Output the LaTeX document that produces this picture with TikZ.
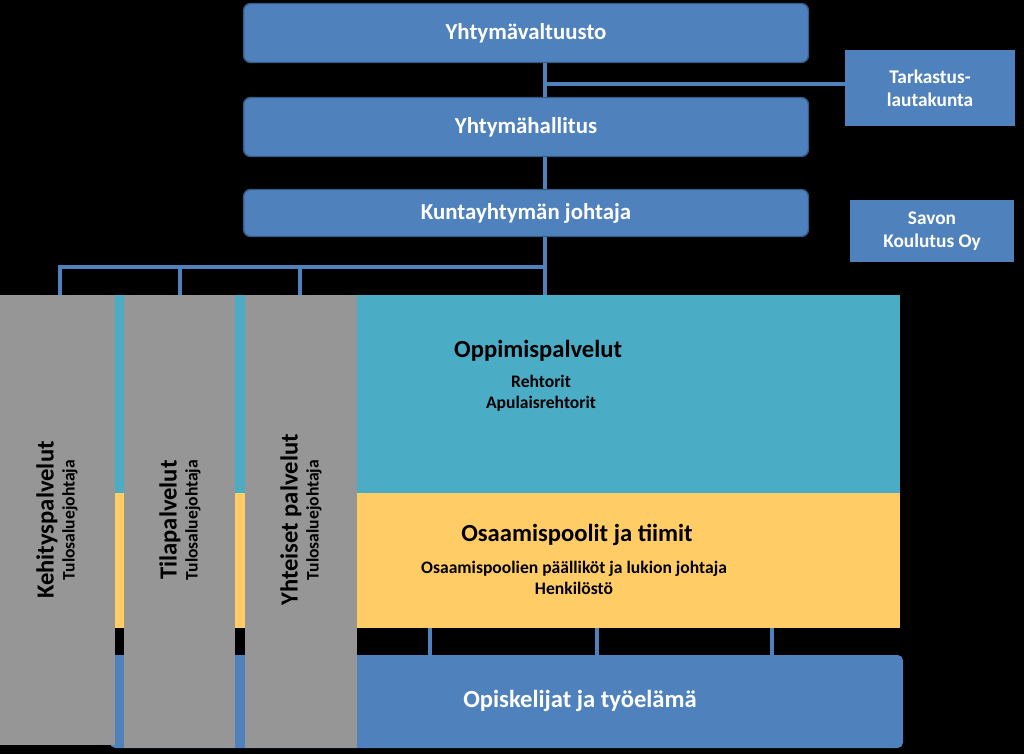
\documentclass[tikz,border=0pt]{standalone}
\usepackage{fontspec}
\setmainfont{Carlito}
\definecolor{boxblue}{HTML}{4F81BD}
\definecolor{bandcyan}{HTML}{4BACC6}
\definecolor{bandyellow}{HTML}{FFCC66}
\definecolor{colgrey}{HTML}{969696}
\tikzset{
  topbox/.style={draw=boxblue!70!black,thick,fill=boxblue,rounded corners=4pt,text=white,font=\bfseries\fontsize{13}{15}\selectfont},
  sidebox/.style={fill=boxblue,text=white,align=center,font=\bfseries\fontsize{11}{13}\selectfont},
  link/.style={boxblue,line width=2.2pt},
  colbox/.style={fill=colgrey},
}
\begin{document}
\begin{tikzpicture}[x=0.02cm,y=-0.02cm]
\fill[black] (0,0) rectangle (1024,754);
%bands
\fill[boxblue,rounded corners=3pt] (110,655) rectangle (903,748);
\fill[bandcyan] (115,295) rectangle (900,493);
\fill[bandyellow] (115,493) rectangle (900,628);
%grey columns
\fill[colgrey] (0,295) rectangle (115,745);
\fill[colgrey] (124,295) rectangle (235,748);
\fill[colgrey] (245,295) rectangle (357,748);
%top boxes
\node[topbox,minimum width=11.3cm,minimum height=1.18cm] (valtuusto) at (526,33) {Yhtymävaltuusto};
\node[topbox,minimum width=11.3cm,minimum height=1.18cm] (hallitus) at (526,127) {Yhtymähallitus};
\node[topbox,minimum width=11.3cm,minimum height=0.94cm] (johtaja) at (526,213) {Kuntayhtymän johtaja};
\node[sidebox,minimum width=3.4cm,minimum height=1.54cm] (tarkastus) at (930,88) {Tarkastus-\\lautakunta};
\node[sidebox,minimum width=3.3cm,minimum height=1.24cm] (savon) at (932,231) {Savon\\Koulutus Oy};
%connectors
\coordinate (j) at (545,84);
\draw[link] (valtuusto.south -| j) -- (hallitus.north -| j);
\draw[link] (j) -- (tarkastus.west |- j);
\draw[link] (hallitus.south -| j) -- (johtaja.north -| j);
\draw[link] (johtaja.south -| j) -- (545,295);
\draw[link] (545,267) -- (60,267) -- (60,295);
\draw[link] (180,267) -- (180,295);
\draw[link] (300,267) -- (300,295);
\foreach \x in {430,597,772}
  \draw[link] (\x,628) -- (\x,655);
%texts
\node[font=\bfseries\fontsize{14}{16}\selectfont,anchor=west] (oppi) at (448,351) {Oppimispalvelut};
\node[font=\bfseries\fontsize{10}{12}\selectfont,align=center] (rehtorit) at (541,393) {Rehtorit\\Apulaisrehtorit};
\node[font=\bfseries\fontsize{14}{16}\selectfont] (osaamis) at (577,535) {Osaamispoolit ja tiimit};
\node[font=\bfseries\fontsize{10}{12}\selectfont,align=center] (poolit) at (574,578) {Osaamispoolien päälliköt ja lukion johtaja\\Henkilöstö};
\node[font=\bfseries\fontsize{14}{16}\selectfont,text=white] (opisk) at (580,701) {Opiskelijat ja työelämä};
\node[rotate=90,align=center,font=\bfseries\fontsize{10}{12}\selectfont] (kehitys) at (57,520) {{\fontsize{14}{16}\selectfont Kehityspalvelut}\\Tulosaluejohtaja};
\node[rotate=90,align=center,font=\bfseries\fontsize{10}{12}\selectfont] (tila) at (180,520) {{\fontsize{14}{16}\selectfont Tilapalvelut}\\Tulosaluejohtaja};
\node[rotate=90,align=center,font=\bfseries\fontsize{10}{12}\selectfont] (yhteiset) at (301,520) {{\fontsize{14}{16}\selectfont Yhteiset palvelut}\\Tulosaluejohtaja};
\end{tikzpicture}
\end{document}
